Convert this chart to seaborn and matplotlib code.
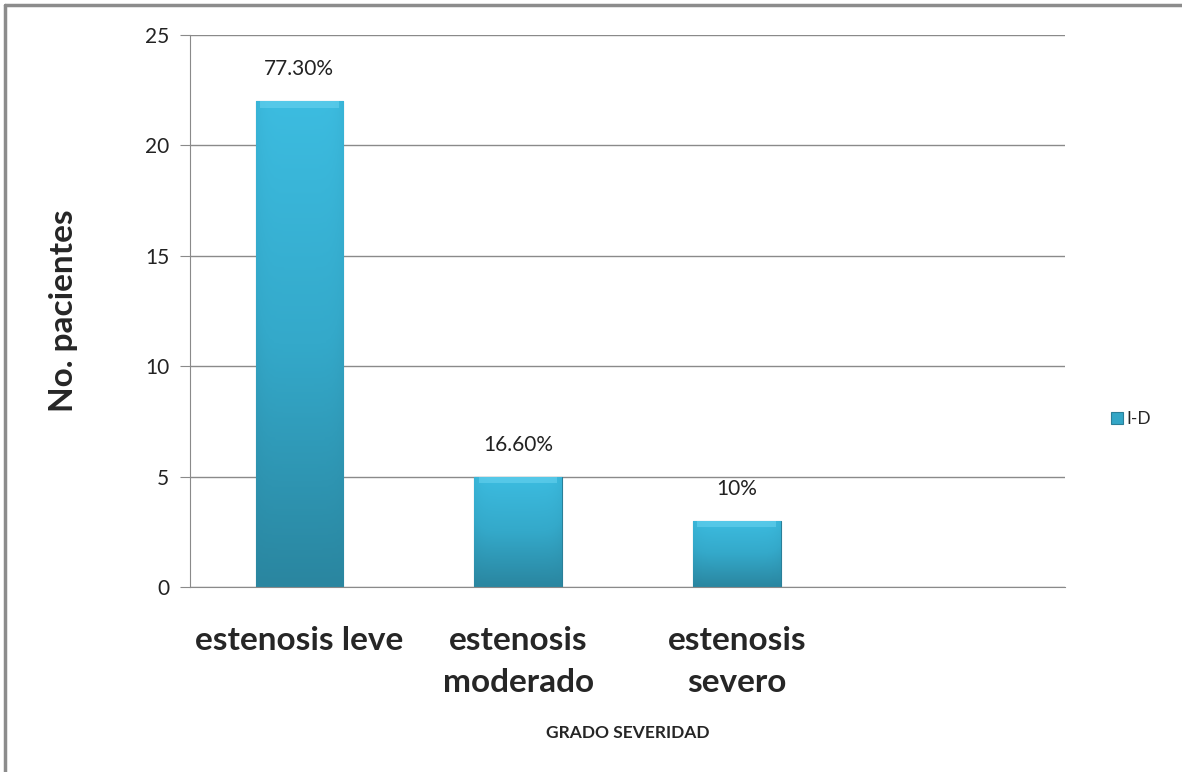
import numpy as np
import seaborn as sns
import matplotlib.pyplot as plt
from matplotlib.lines import Line2D
from matplotlib.colors import LinearSegmentedColormap

sns.set_style("white")
plt.rcParams['font.family'] = ['Lato', 'DejaVu Sans']

categorias = ["estenosis leve", "estenosis\nmoderado", "estenosis\nsevero", ""]
pacientes = [22, 5, 3, np.nan]
etiquetas = ["77.30%", "16.60%", "10%", ""]
serie = "I-D"

fig = plt.figure(figsize=(11.82, 7.72), dpi=100)
ax = fig.add_axes([0.1607, 0.2396, 0.901 - 0.1607, 0.9547 - 0.2396])

sns.barplot(x=list(range(len(categorias))), y=pacientes, ax=ax, color="#33A6C6",
            width=0.4, saturation=1, edgecolor="#2A7F98", linewidth=0.8, label=serie)

# gradient fill on bars
cmap = LinearSegmentedColormap.from_list("bar", ["#2A86A0", "#34A9CA", "#3CBCE0"])
for p in ax.patches:
    h = p.get_height()
    if not np.isfinite(h) or h == 0:
        continue
    x0 = p.get_x()
    w = p.get_width()
    grad = np.linspace(0, 1, 100).reshape(-1, 1)
    side = 1 - 0.2 * np.abs(np.linspace(-1, 1, 50)) ** 6
    img = grad * side
    im = ax.imshow(img, extent=[x0, x0 + w, 0, h], origin="lower", aspect="auto",
                   cmap=cmap, vmin=0, vmax=1, zorder=p.get_zorder() + 0.1)
    im.set_clip_path(p)
    ax.fill_between([x0 + w * 0.05, x0 + w * 0.95], h - 0.3, h, color="#6FD6F2",
                    alpha=0.5, lw=0, zorder=p.get_zorder() + 0.2)

for i, t in enumerate(etiquetas):
    if t:
        ax.text(i, pacientes[i] + 1.45, t, ha="center", va="center", fontsize=15,
                color="#222222")

ax.set_xlim(-0.5, 3.5)
ax.set_ylim(0, 25)
ax.set_yticks([0, 5, 10, 15, 20, 25])
ax.yaxis.grid(True, color="#8A8A8A", linewidth=1)
ax.set_axisbelow(True)
for s in ["top", "right"]:
    ax.spines[s].set_visible(False)
ax.spines["left"].set_color("#8A8A8A")
ax.spines["bottom"].set_color("#8A8A8A")
ax.tick_params(axis="y", length=7, color="#8A8A8A", labelsize=15, pad=8,
               labelcolor="#222222", left=True)
ax.tick_params(axis="x", length=0, pad=28)
ax.set_xticks(range(len(categorias)))
ax.set_xticklabels(categorias, fontsize=24, fontweight="bold", linespacing=1.55)

ax.set_ylabel("No. pacientes", fontsize=24, fontweight="bold", labelpad=48)
ax.set_xlabel("GRADO SEVERIDAD", fontsize=12.5, fontweight="bold", labelpad=20)

leg = ax.legend(loc="center left", bbox_to_anchor=(1.035, 0.304), frameon=False,
                fontsize=12.5, handlelength=0.7, handleheight=0.7, handletextpad=0.2)

fig.add_artist(Line2D([5 / 1182, 5 / 1182], [0, 1 - 5 / 772], color="#8C8C8C", lw=2.5,
                      transform=fig.transFigure))
fig.add_artist(Line2D([5 / 1182, 1], [1 - 5 / 772, 1 - 5 / 772], color="#8C8C8C", lw=2.5,
                      transform=fig.transFigure))

fig.savefig("out.png", dpi=100)
